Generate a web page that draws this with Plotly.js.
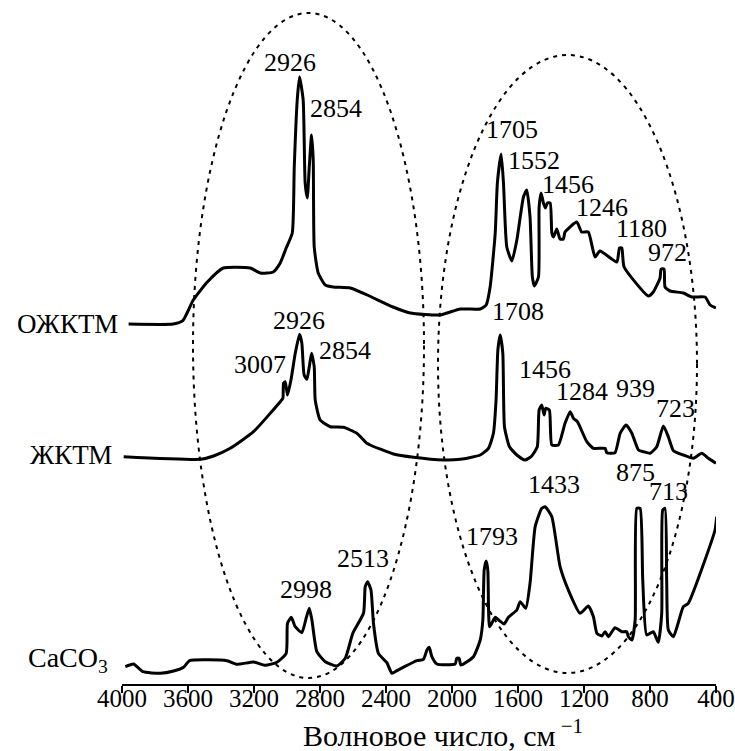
<!DOCTYPE html>
<html>
<head>
<meta charset="utf-8">
<script src="https://cdn.plot.ly/plotly-3.0.1.min.js"></script>
<style>html,body{margin:0;padding:0;background:#fff;}#chart{width:735px;height:751px;}</style>
</head>
<body>
<div id="chart"></div>
<script>
// Wavenumbers (cm^-1) and relative intensities
const wnOZH = [3960,3689,3631,3568,3483,3386,3223,3162,3083,3041,3005,2968,2956,2938,2924,2902,2890,2877,2865,2851,2841,2835,2811,2768,2720,2617,2514,2357,2254,2072,1950,1829,1793,1769,1738,1725,1702,1688,1668,1637,1607,1567,1547,1527,1513,1501,1476,1472,1460,1446,1434,1422,1405,1395,1385,1365,1345,1325,1315,1244,1214,1174,1133,1103,1001,985,971,957,810,780,739,733,715,709,678,598,547,466,436,400];
const intOZH = [0,0,3.3,24,42,56,56,51,52,61,76,91,157,224,247.3,224,141,126,157,189,164,77,51,39,37,36,29,17,11,9,15,15,19,37,91,141,170,141,77,63,84,127,134,107,47,38,47,117,131,121,116,121,121,91,87,95,85,85,92,102,92,92,67,73,62,76,76,57,28,32,46,55,55,37,33,31,27,27,19,16];

const wnZH = [3990,3525,3445,3344,3203,3041,3025,3021,3011,2997,2976,2950,2924,2910,2896,2879,2865,2851,2835,2829,2799,2738,2658,2577,2516,2496,2355,2233,2052,1950,1829,1779,1749,1733,1722,1708,1692,1682,1652,1607,1557,1517,1483,1472,1456,1442,1432,1410,1395,1355,1315,1284,1264,1240,1183,1143,1072,1062,1012,981,945,910,870,840,800,759,719,689,658,598,537,486,446,400];
const intZH = [0.3,-2.3,1,8.7,25.3,55.3,58.7,73.7,75.3,62,77,103.7,122.7,113.7,82,77.7,90.3,103.7,90.3,57,37,30.3,29.7,23.7,13.7,12,3,-0.3,-3,-2.3,2,8.7,23.7,57,107,122,103.7,30.3,10.3,2,-3,1,10.3,47,52,42,48.7,47,12,12,33.7,45.3,38.7,35.3,15.3,8.7,8.7,4.3,4.3,23.7,32,23.7,7,5.3,3.7,10.3,31,20.3,6.3,2,-1.3,3.7,-1.3,-6.3];

const wnCA = [3980,3930,3873,3768,3687,3627,3590,3364,3303,3203,3132,3061,3005,2997,2974,2950,2910,2884,2865,2849,2819,2768,2698,2647,2601,2536,2526,2512,2491,2476,2446,2395,2364,2334,2213,2173,2152,2138,2122,2092,1981,1971,1957,1946,1870,1829,1813,1805,1793,1783,1773,1759,1738,1718,1684,1658,1607,1587,1553,1527,1496,1456,1436,1395,1345,1295,1224,1174,1143,1122,1092,1072,1052,1012,971,941,931,910,890,880,860,844,820,780,750,729,723,709,699,689,658,598,568,406,396];
const intCA = [0.3,3,-4.7,-6.3,-4,-0.3,6.3,6.3,2.7,5,1.7,4.7,13.7,43.7,49.7,40.3,34.3,48.7,58.7,47,15.3,5.3,1,8.7,33.7,54,80.3,85.3,77,43.7,13.7,4.3,-6.3,-3.7,6.3,7.7,17,19.7,10.3,3,3,8.7,8.7,2,10.3,27,47,97,106,97,40.3,43.7,49.7,47,43,49.7,57,65.3,58.7,83.7,140.3,158.7,160.3,150.3,100.3,77,53.7,61,50.3,33.7,31,35.3,30.3,39.3,35.3,35.3,30.3,27,47,158.7,158.7,87,32,35.3,24.7,53.7,157,158.7,87,37,30.3,60.3,63.7,137,150.3];

const seriesNames = ['ОЖКТМ', 'ЖКТМ', 'CaCO<sub>3</sub>'];
const tickVals = [4000,3600,3200,2800,2400,2000,1600,1200,800,400];
const tickText = ['4000','3600','3200','2800','2400','2000','1600','1200','800','400'];
const xTitle = 'Волновое число, см<sup> −1</sup>';

const peaksOZH = ['2926','2854','1705','1552','1456','1246','1180','972'];
const peaksZH = ['3007','2926','2854','1708','1456','1284','939','723'];
const peaksCA = ['2998','2513','1793','1433','875','713'];

// vertical offsets of the stacked spectra
const OFFS = [360, 227, 17];

// layout geometry
const W = 735, H = 751, L = 122, R = 19, T = 0, B = 67;
const PW = W - L - R, PH = H - T - B;
const px = p => (p - L) / PW;
const py = p => (T + PH - p) / PH;

const font = '"Liberation Serif", "Times New Roman", serif';
const lineStyle = {color: '#000', width: 3, shape: 'spline', smoothing: 0.5};
const mk = (x, ints, off) => ({
  x: x, y: ints.map(v => v + off), type: 'scatter', mode: 'lines',
  line: lineStyle, hoverinfo: 'skip', showlegend: false, cliponaxis: false
});
const data = [mk(wnOZH, intOZH, OFFS[0]), mk(wnZH, intZH, OFFS[1]), mk(wnCA, intCA, OFFS[2])];

const ann = [];
const addT = (text, xp, yp, size, xanchor) => ann.push({
  text: text, xref: 'paper', yref: 'paper', x: px(xp), y: py(yp),
  xanchor: xanchor || 'center', yanchor: 'middle', showarrow: false,
  font: {family: font, size: size, color: '#000'}
});
// series labels
addT(seriesNames[0], 120, 324, 27, 'right');
addT(seriesNames[1], 114, 455, 27, 'right');
addT(seriesNames[2], 110, 659, 28, 'right');
// peak labels
const posOZH = [[290,62],[336,109],[512,130],[534,160],[568,184],[602,207],[641,229],[667,252]];
const posZH = [[260,364],[299,320],[345,350],[518,311],[545,369],[582,391],[635,388],[675,408]];
const posCA = [[306,589],[363,558],[492,536],[554,484],[635,472],[668,491]];
peaksOZH.forEach((t,i) => addT(t, posOZH[i][0], posOZH[i][1], 26));
peaksZH.forEach((t,i) => addT(t, posZH[i][0], posZH[i][1], 26));
peaksCA.forEach((t,i) => addT(t, posCA[i][0], posCA[i][1], 26));
// axis title
addT(xTitle, 443, 733, 30);

const ell = (x0,x1,y0,y1) => ({type:'circle', xref:'paper', yref:'paper',
  x0:px(x0), x1:px(x1), y0:py(y1), y1:py(y0),
  line:{color:'#000', width:2, dash:'4px,5px'}, layer:'above'});

const layout = {
  width: W, height: H,
  margin: {l: L, r: R, t: T, b: B, pad: 0},
  paper_bgcolor: '#fff', plot_bgcolor: '#fff',
  font: {family: font, color: '#000'},
  showlegend: false,
  xaxis: {
    range: [4000, 400], autorange: false, automargin: false,
    tickvals: tickVals, ticktext: tickText,
    ticks: 'outside', ticklen: 7, tickwidth: 1.5, tickcolor: '#000',
    ticklabelstandoff: -16,
    showline: true, linecolor: '#000', linewidth: 1.5,
    showgrid: false, zeroline: false,
    tickfont: {family: font, size: 25, color: '#000'}
  },
  yaxis: {range: [0, PH], autorange: false, visible: false, showgrid: false, zeroline: false},
  annotations: ann,
  shapes: [ell(193, 424, 13, 678), ell(438, 697, 55, 673)]
};
Plotly.newPlot('chart', data, layout, {staticPlot: true, displayModeBar: false});
</script>
</body>
</html>
